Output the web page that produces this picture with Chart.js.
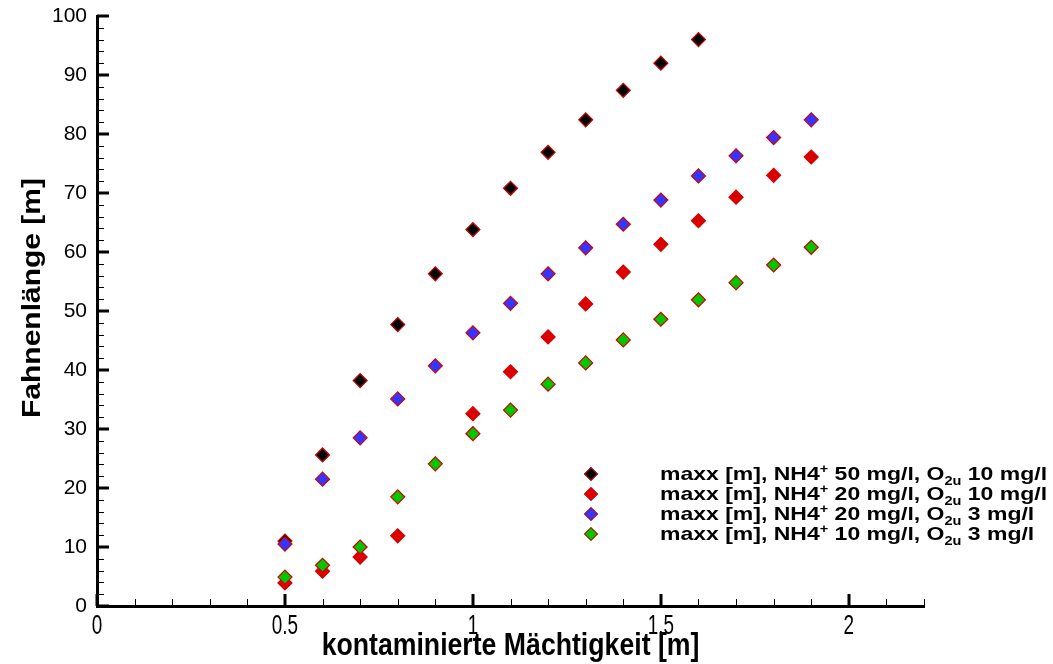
<!DOCTYPE html>
<html>
<head>
<meta charset="utf-8">
<script src="https://cdn.jsdelivr.net/npm/chart.js@4.4.1/dist/chart.umd.min.js"></script>
<style>
    html, body { margin: 0; padding: 0; background: #fff; }
    #wrap { position: relative; width: 1053px; height: 664px; }
    #legend {
        position: absolute; left: 580px; top: 464px;
        font-family: "Liberation Sans", Arial, sans-serif; font-weight: bold;
        font-size: 19px; color: #000; line-height: 20px;
    }
    .row { position: relative; height: 20px; white-space: nowrap; }
    .mark {
        position: absolute; left: 6px; top: 5px; width: 8px; height: 8px;
        transform: rotate(45deg); border: 1px solid #d00000;
    }
    .txt { position: absolute; left: 80px; top: 0; transform: scaleX(1.21); transform-origin: 0 0; }
    sup, sub { font-size: 12px; line-height: 0; }
    sup { vertical-align: 7px; }
    sub { vertical-align: -5px; }
</style>
</head>
<body>
<div id="wrap">
    <canvas id="chart" width="1053" height="664"></canvas>
    <div id="legend"></div>
</div>
<script>
// contaminated thickness [m]
const thickness = [0.5, 0.6, 0.7, 0.8, 0.9, 1.0, 1.1, 1.2, 1.3, 1.4, 1.5, 1.6, 1.7, 1.8, 1.9];

// plume length [m] per scenario
const nh4_50_o2_10 = [11.0, 25.6, 38.2, 47.7, 56.3, 63.8, 70.8, 76.9, 82.4, 87.4, 92.0, 96.0, null, null, null];
const nh4_20_o2_10 = [3.9, 5.9, 8.3, 11.9, null, 32.6, 39.7, 45.6, 51.2, 56.6, 61.3, 65.3, 69.3, 73.0, 76.1];
const nh4_20_o2_3  = [10.5, 21.5, 28.5, 35.1, 40.7, 46.3, 51.3, 56.3, 60.7, 64.7, 68.8, 72.9, 76.3, 79.4, 82.4];
const nh4_10_o2_3  = [4.9, 6.9, 10.0, 18.5, 24.1, 29.2, 33.2, 37.6, 41.2, 45.1, 48.6, 51.9, 54.8, 57.8, 60.8];

const xTicks = [0, 0.5, 1, 1.5, 2];
const yTicks = [0, 10, 20, 30, 40, 50, 60, 70, 80, 90, 100];

const xTitle = 'kontaminierte Mächtigkeit [m]';
const yTitle = 'Fahnenlänge [m]';

const series = [
    { nh4: '50', o2: '10', values: nh4_50_o2_10, fill: '#000000' },
    { nh4: '20', o2: '10', values: nh4_20_o2_10, fill: '#dd0000' },
    { nh4: '20', o2: '3',  values: nh4_20_o2_3,  fill: '#3535ff' },
    { nh4: '10', o2: '3',  values: nh4_10_o2_3,  fill: '#00c800' }
];

function toPoints(values) {
    const pts = [];
    values.forEach((v, i) => {
        if (v !== null) pts.push({ x: thickness[i], y: v });
    });
    return pts;
}

const datasets = series.map((s, i) => ({
    label: `maxx [m], NH4+ ${s.nh4} mg/l, O2u ${s.o2} mg/l`,
    data: toPoints(s.values),
    pointStyle: 'rectRot',
    pointRadius: 7,
    pointHoverRadius: 7,
    pointBorderWidth: 1.2,
    backgroundColor: s.fill,
    borderColor: '#d00000',
    showLine: false,
    // later series sit on top
    order: series.length - 1 - i
}));

// inward tick marks, x labels and axis titles (condensed / widened text)
const axisDeco = {
    id: 'axisDeco',
    afterDraw(chart) {
        const c = chart.ctx;
        const xs = chart.scales.x, ys = chart.scales.y;
        const left = chart.chartArea.left, bottom = chart.chartArea.bottom;
        c.save();
        c.strokeStyle = '#000';
        for (let i = 0; i <= 22; i++) {
            const major = i % 5 === 0;
            const px = Math.round(xs.getPixelForValue(i / 10));
            c.lineWidth = major ? 3 : 1;
            c.beginPath();
            c.moveTo(px + (major ? 0 : 0.5), bottom);
            c.lineTo(px + (major ? 0 : 0.5), bottom - (major ? 12 : 7));
            c.stroke();
        }
        for (let i = 0; i <= 50; i++) {
            const major = i % 5 === 0;
            const py = Math.round(ys.getPixelForValue(i * 2));
            c.lineWidth = major ? 3 : 1;
            c.beginPath();
            c.moveTo(left, py + (major ? 0 : 0.5));
            c.lineTo(left + (major ? 12 : 7), py + (major ? 0 : 0.5));
            c.stroke();
        }

        c.fillStyle = '#000';
        c.textAlign = 'center';
        c.textBaseline = 'top';
        c.font = '27px "Liberation Sans", Arial, sans-serif';
        xs.ticks.forEach((t) => {
            c.save();
            c.translate(xs.getPixelForValue(t.value), bottom + 7);
            c.scale(0.7, 1);
            c.fillText(String(t.value), 0, 0);
            c.restore();
        });

        c.textBaseline = 'alphabetic';
        c.font = 'bold 31px "Liberation Sans", Arial, sans-serif';
        c.save();
        c.translate((chart.chartArea.left + chart.chartArea.right) / 2, 655);
        c.scale(0.86, 1);
        c.fillText(xTitle, 0, 0);
        c.restore();

        c.textBaseline = 'middle';
        c.font = 'bold 25px "Liberation Sans", Arial, sans-serif';
        c.save();
        c.translate(33, 298);
        c.rotate(-Math.PI / 2);
        c.scale(1.2, 1);
        c.fillText(yTitle, 0, 0);
        c.restore();
        c.restore();
    }
};

const ctx = document.getElementById('chart').getContext('2d');
const chart = new Chart(ctx, {
    type: 'scatter',
    data: { datasets: datasets },
    options: {
        responsive: false,
        animation: false,
        layout: { padding: { left: 0, top: 16, right: 129, bottom: 0 } },
        plugins: {
            legend: { display: false },
            tooltip: { enabled: false }
        },
        scales: {
            x: {
                type: 'linear',
                min: 0,
                max: 2.2,
                afterFit: (s) => { s.height = 58; s.paddingLeft = 0; s.paddingRight = 0; },
                afterBuildTicks: (s) => { s.ticks = xTicks.map(v => ({ value: v })); },
                grid: { display: false, drawTicks: false },
                border: { display: true, color: '#000', width: 3 },
                ticks: { display: false }
            },
            y: {
                type: 'linear',
                min: 0,
                max: 100,
                afterFit: (s) => { s.width = 97; s.paddingTop = 0; s.paddingBottom = 0; },
                afterBuildTicks: (s) => { s.ticks = yTicks.map(v => ({ value: v })); },
                grid: { display: false, drawTicks: false },
                border: { display: true, color: '#000', width: 3 },
                ticks: {
                    color: '#000',
                    padding: 10,
                    font: { family: '"Liberation Sans", Arial, sans-serif', size: 21 }
                }
            }
        }
    },
    plugins: [axisDeco]
});

// legend with super- and subscripts
const legendBox = document.getElementById('legend');
series.forEach((s) => {
    const row = document.createElement('div');
    row.className = 'row';
    const mark = document.createElement('span');
    mark.className = 'mark';
    mark.style.background = s.fill;
    const txt = document.createElement('span');
    txt.className = 'txt';
    txt.innerHTML = `maxx [m], NH4<sup>+</sup> ${s.nh4} mg/l, O<sub>2u</sub> ${s.o2} mg/l`;
    row.appendChild(mark);
    row.appendChild(txt);
    legendBox.appendChild(row);
});
</script>
</body>
</html>
